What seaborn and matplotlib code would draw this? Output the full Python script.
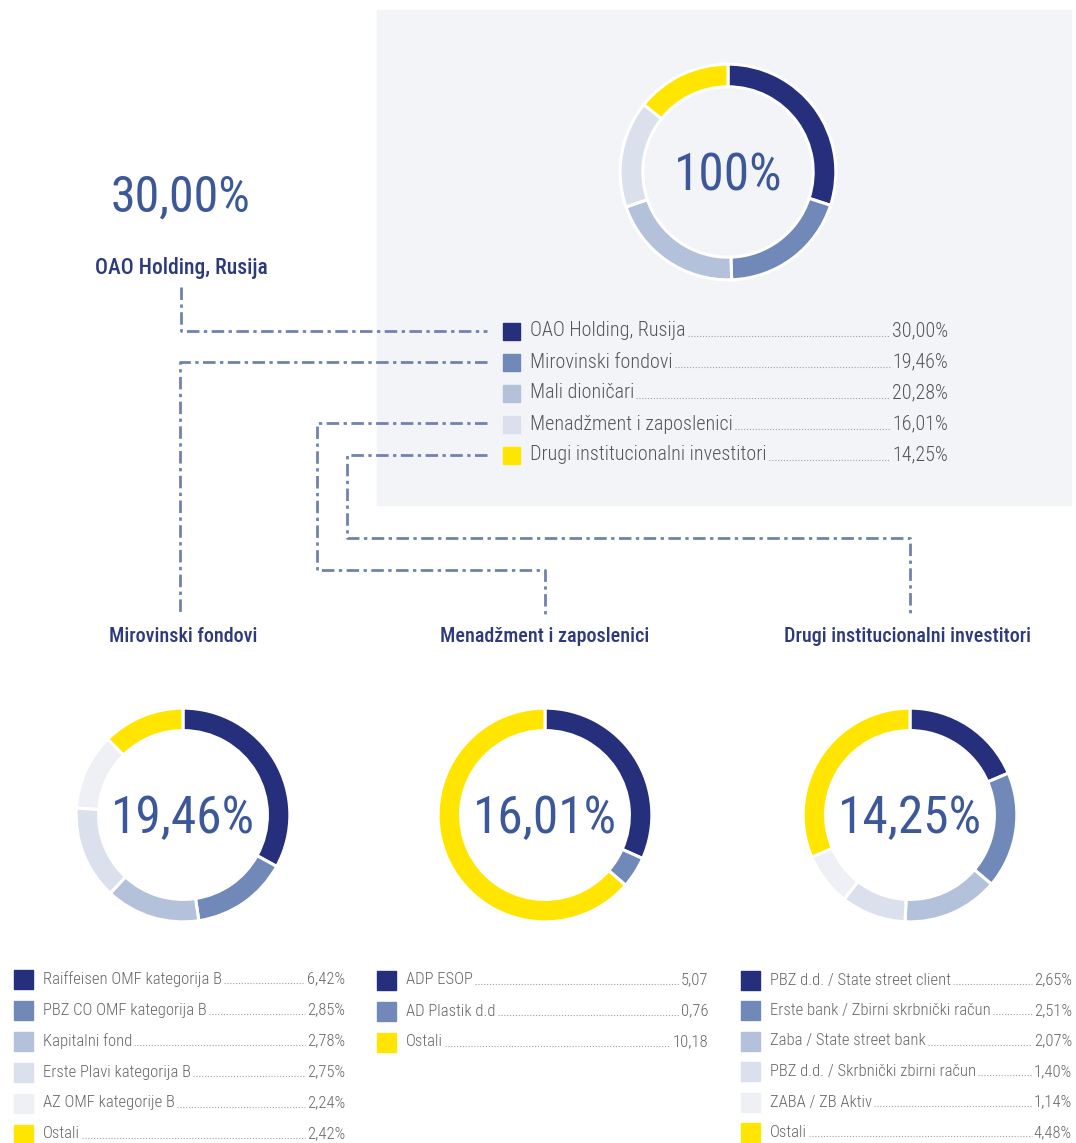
import matplotlib
matplotlib.use("Agg")
import matplotlib.pyplot as plt
from matplotlib.patches import Rectangle
import seaborn as sns

# ---- data ----
main_labels = ["OAO Holding, Rusija", "Mirovinski fondovi", "Mali dioničari",
               "Menadžment i zaposlenici", "Drugi institucionalni investitori"]
main_values = [30.00, 19.46, 20.28, 16.01, 14.25]

pension_labels = ["Raiffeisen OMF kategorija B", "PBZ CO OMF kategorija B", "Kapitalni fond",
                  "Erste Plavi kategorija B", "AZ OMF kategorije B", "Ostali"]
pension_values = [6.42, 2.85, 2.78, 2.75, 2.24, 2.42]

mgmt_labels = ["ADP ESOP", "AD Plastik d.d", "Ostali"]
mgmt_values = [5.07, 0.76, 10.18]

inst_labels = ["PBZ d.d. / State street client", "Erste bank / Zbirni skrbnički račun",
               "Zaba / State street bank", "PBZ d.d. / Skrbnički zbirni račun",
               "ZABA / ZB Aktiv", "Ostali"]
inst_values = [2.65, 2.51, 2.07, 1.40, 1.14, 4.48]

NAVY, MID, LIGHT, LIGHTER, LIGHTEST, YELLOW = "#252f7b", "#7189b8", "#b4c1da", "#dbe1ec", "#eef0f5", "#ffe500"
main_colors = [NAVY, MID, LIGHT, LIGHTER, YELLOW]
pension_colors = [NAVY, MID, LIGHT, LIGHTER, LIGHTEST, YELLOW]
mgmt_colors = [NAVY, MID, YELLOW]
inst_colors = [NAVY, MID, LIGHT, LIGHTER, LIGHTEST, YELLOW]

NUM_BLUE = "#3c5899"
HEAD = "#2f3a7c"
LINE = "#7082ad"
PANEL = "#f3f4f8"


def fmt(v, pct=True):
    return f"{v:.2f}".replace(".", ",") + ("%" if pct else "")


sns.set_theme(style="white")
FONTS = ["Roboto Condensed", "Liberation Sans Narrow", "DejaVu Sans"]
plt.rcParams["font.family"] = FONTS

W, H = 1076, 1143
fig = plt.figure(figsize=(W / 100, H / 100), dpi=100)
fig.patch.set_facecolor("white")
ax = fig.add_axes([0, 0, 1, 1])
ax.set_xlim(0, W)
ax.set_ylim(H, 0)
ax.axis("off")

# grey panel behind the total donut
ax.add_patch(Rectangle((377, 10), 694, 495, color=PANEL, zorder=0))


def donut(cx, cy, r, values, colors, label, fs, edge="white"):
    a = fig.add_axes([(cx - r) / W, 1 - (cy + r) / H, 2 * r / W, 2 * r / H])
    a.pie(values, colors=colors, startangle=90, counterclock=False,
          wedgeprops=dict(width=0.21, edgecolor=edge, linewidth=2.2))
    a.set_xlim(-1.02, 1.02)
    a.set_ylim(-1.02, 1.02)
    a.axis("off")
    a.text(0, -0.04, label, ha="center", va="center", fontsize=fs, color=NUM_BLUE,
           fontweight="normal")


donut(728, 172, 110, main_values, main_colors, "100%", 37, edge="white")
donut(183, 815, 109, pension_values, pension_colors, fmt(sum(pension_values)), 37)
donut(545, 815, 109, mgmt_values, mgmt_colors, fmt(sum(mgmt_values)), 37)
donut(910, 815, 109, inst_values, inst_colors, fmt(sum(inst_values)), 37)

# left big number
ax.text(181, 197, fmt(main_values[0]), ha="center", va="center", fontsize=36,
        color=NUM_BLUE, fontweight="normal")
ax.text(181, 268, main_labels[0], ha="center", va="center", fontsize=15.5,
        color=HEAD, fontweight="medium")

# headers of the three detail donuts
for x, lab in [(183, main_labels[1]), (545, main_labels[3]), (908, main_labels[4])]:
    ax.text(x, 637, lab, ha="center", va="center", fontsize=14.5, color=HEAD, fontweight="medium")

leaders = []


def legend(x_sq, x_val, y0, dy, labels, values, colors, fs, sq, pct=True, tcol="#666666"):
    for i, (lab, v, c) in enumerate(zip(labels, values, colors)):
        y = y0 + i * dy
        ax.add_patch(Rectangle((x_sq, y - sq / 2), sq, sq, color=c, zorder=2))
        t = ax.text(x_sq + sq + 10, y, lab, ha="left", va="center", fontsize=fs, color=tcol,
                    fontweight="light")
        vt = ax.text(x_val, y, fmt(v, pct), ha="right", va="center", fontsize=fs, color=tcol,
                     fontweight="light")
        leaders.append((t, vt, fs))


legend(503, 948, 331, 31, main_labels, main_values, main_colors, 14.5, 17, tcol="#555555")
legend(14, 345, 979, 31, pension_labels, pension_values, pension_colors, 12, 19)
legend(377, 708, 980, 31, mgmt_labels, mgmt_values, mgmt_colors, 12, 19, pct=False)
legend(741, 1072, 980, 30.5, inst_labels, inst_values, inst_colors, 12, 19)

# dotted leaders between label and value
fig.canvas.draw()
rend = fig.canvas.get_renderer()
inv = ax.transData.inverted()
for t, vt, fs in leaders:
    bt = t.get_window_extent(rend).transformed(inv)
    bv = vt.get_window_extent(rend).transformed(inv)
    yb = max(bt.y0, bt.y1) - fs * 0.3
    ax.plot([bt.x1 + 2, bv.x0 - 2], [yb, yb], ls=(0, (1, 1.6)), lw=0.8, color="#a0a0a0")

# dash-dot connectors
dd = dict(color=LINE, lw=2, ls=(0, (4.5, 1.6, 1.2, 1.6)), solid_capstyle="butt")
ax.plot([181, 181, 487], [287, 331, 331], **dd)
ax.plot([487, 180, 180], [362, 362, 615], **dd)
ax.plot([487, 317, 317, 545, 545], [423, 423, 570, 570, 615], **dd)
ax.plot([487, 347, 347, 910, 910], [455, 455, 538, 538, 615], **dd)

fig.savefig("out.png", dpi=100, facecolor="white")
